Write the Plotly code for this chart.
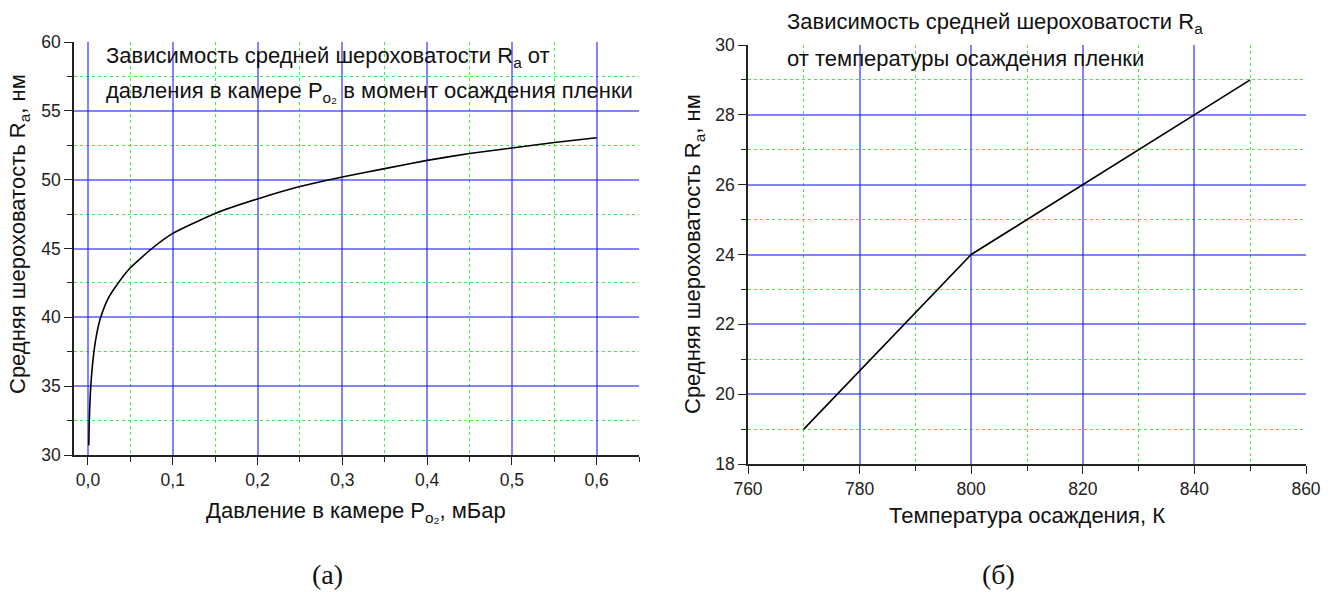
import plotly.graph_objects as go

# ---- data ----
pressure = [0.0009, 0.0015, 0.0033, 0.007, 0.0103, 0.015, 0.024, 0.0357, 0.05, 0.0754, 0.1,
            0.15, 0.2, 0.25, 0.3, 0.35, 0.4, 0.45, 0.5, 0.55, 0.6]
ra_pressure = [30.7, 32.4, 35.0, 37.5, 38.8, 40.0, 41.4, 42.5, 43.6, 45.0, 46.1,
               47.55, 48.6, 49.5, 50.2, 50.8, 51.4, 51.9, 52.3, 52.7, 53.05]

temperature = [770, 800, 850]
ra_temperature = [19, 24, 29]

W, H = 1336, 592
FONT = "Liberation Sans, Arial, sans-serif"
BLUE = "rgba(30,30,255,0.55)"
GREEN = "rgba(0,235,0,0.75)"


def px(x):
    return x / W


def py(y):
    return 1 - y / H


fig = go.Figure()
fig.add_trace(go.Scatter(x=pressure, y=ra_pressure, mode="lines",
                         line=dict(color="black", width=1.6, shape="spline", smoothing=0.5),
                         xaxis="x", yaxis="y", showlegend=False))
fig.add_trace(go.Scatter(x=temperature, y=ra_temperature, mode="lines",
                         line=dict(color="black", width=1.6),
                         xaxis="x2", yaxis="y2", showlegend=False))


def axis(domain, rng, dtick, mdtick, fmt=None, anchor=None):
    d = dict(domain=domain, range=rng, tick0=0, dtick=dtick, showgrid=True,
             gridcolor=BLUE, gridwidth=1.5, zeroline=False, showline=True,
             linecolor="#222", linewidth=1.5, ticks="outside", ticklen=8,
             tickwidth=1.3, tickcolor="#222", automargin=False,
             tickfont=dict(family=FONT, size=17.5, color="#222"),
             minor=dict(tick0=0, dtick=mdtick, showgrid=True, gridcolor=GREEN,
                        griddash="dot", gridwidth=1, ticks="outside", ticklen=5,
                        tickwidth=1.3, tickcolor="#222"),
             anchor=anchor, mirror=False)
    if fmt:
        d["tickformat"] = fmt
    return d


fig.update_layout(
    width=W, height=H, margin=dict(l=0, r=0, t=0, b=0, pad=0, autoexpand=False),
    autosize=False,
    paper_bgcolor="white", plot_bgcolor="white",
    separators=", ",
    xaxis=axis([px(74), px(639)], [-0.0165, 0.65], 0.1, 0.05, ".1f", "y"),
    yaxis=axis([py(455), py(42)], [30, 60], 5, 2.5, None, "x"),
    xaxis2=axis([px(748), px(1306)], [760, 860], 20, 10, None, "y2"),
    yaxis2=axis([py(464), py(45)], [18, 30], 2, 1, None, "x2"),
)

ann = []


def text(x, y, s, size=18, xanchor="center", angle=0, family=FONT):
    ann.append(dict(x=px(x), y=py(y), xref="paper", yref="paper", text=s,
                    showarrow=False, xanchor=xanchor, yanchor="middle",
                    textangle=angle, font=dict(family=family, size=size, color="#111")))


text(104, 57, "Зависимость средней шероховатости R<sub>a</sub> от", 22, "left")
text(104, 92, "давления в камере P<sub>o₂</sub> в момент осаждения пленки", 22, "left")
text(785, 23, "Зависимость средней шероховатости R<sub>a</sub>", 22, "left")
text(785, 58, "от температуры осаждения пленки", 22, "left")

text(356, 512, "Давление в камере P<sub>o₂</sub>, мБар", 22)
text(1027, 515, "Температура осаждения, К", 22)
text(19, 234, "Средняя шероховатость R<sub>a</sub>, нм", 22, angle=-90)
text(694, 254, "Средняя шероховатость R<sub>a</sub>, нм", 22, angle=-90)

text(327, 574, "(а)", 28, family="Liberation Serif, Times New Roman, serif")
text(998, 574, "(б)", 28, family="Liberation Serif, Times New Roman, serif")

fig.update_layout(annotations=ann)
fig.write_html("out.html", post_script="document.body.style.margin='0px';")
